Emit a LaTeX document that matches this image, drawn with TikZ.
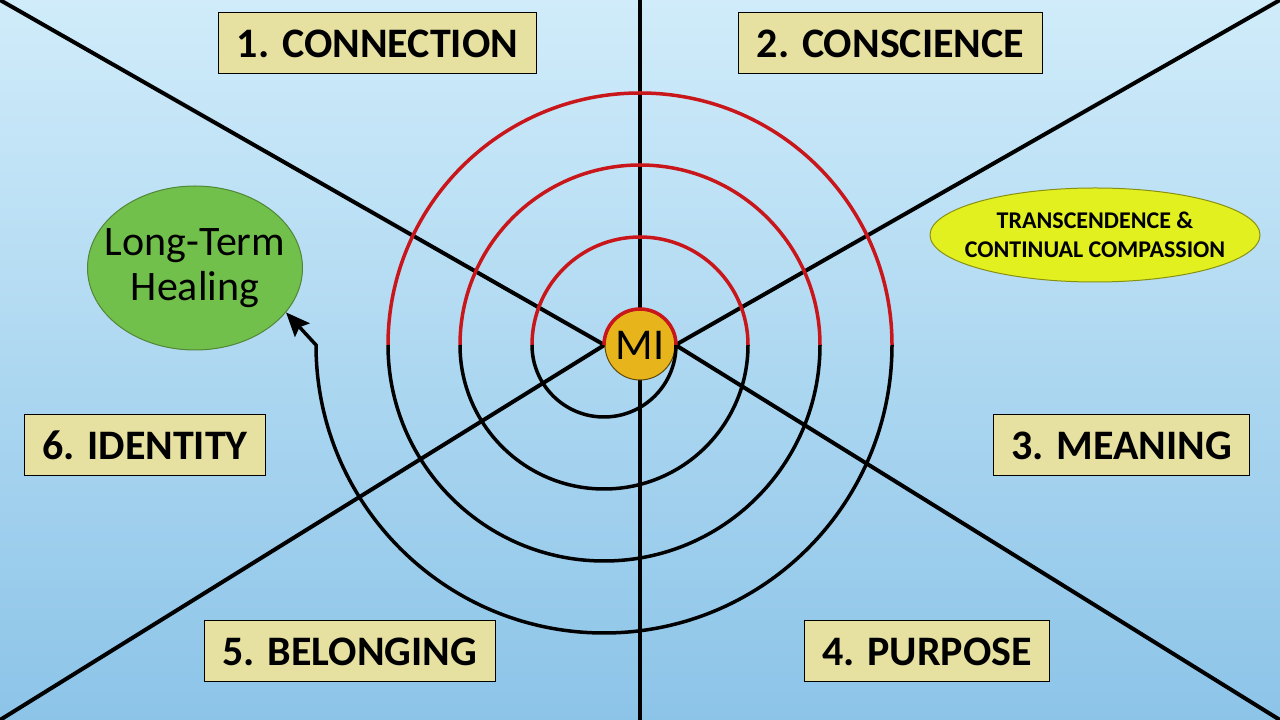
\documentclass[tikz,border=0pt]{standalone}
\usepackage{fontspec}
\setmainfont{Carlito}
\usepackage{tikz}
\usetikzlibrary{positioning,arrows.meta,shapes.geometric,calc}
\definecolor{skytop}{RGB}{208,236,250}
\definecolor{skybottom}{RGB}{140,196,232}
\definecolor{boxcolor}{RGB}{230,225,160}
\definecolor{spiralred}{RGB}{200,22,26}
\definecolor{migold}{RGB}{232,180,28}
\definecolor{healgreen}{RGB}{114,192,76}
\definecolor{transyellow}{RGB}{226,240,32}
\pgfdeclarelayer{back}
\pgfsetlayers{back,main}
\tikzset{
  stage box/.style={
    draw=black,
    fill=boxcolor,
    line width=1pt,
    inner xsep=18pt,
    minimum height=61pt,
    font=\fontsize{42}{48}\selectfont\bfseries
  },
  mi node/.style={
    circle,
    draw=black!60!migold,
    fill=migold,
    line width=1pt,
    minimum size=70pt,
    inner sep=0pt,
    font=\fontsize{44}{48}\selectfont
  },
  heal node/.style={
    ellipse,
    draw=healgreen!70!black,
    fill=healgreen,
    line width=1pt,
    minimum width=215pt,
    minimum height=164pt,
    inner xsep=-17pt,
    inner ysep=0pt,
    align=center,
    text=black,
    font=\fontsize{42}{45}\selectfont
  },
  trans node/.style={
    ellipse,
    draw=transyellow!60!black,
    fill=transyellow,
    line width=1pt,
    minimum width=330pt,
    minimum height=94pt,
    inner xsep=-16pt,
    inner ysep=0pt,
    align=center,
    font=\fontsize{24}{29}\selectfont\bfseries
  },
  axis line/.style={line width=4pt, black},
  red arc/.style={line width=3.5pt, spiralred},
  black arc/.style={line width=3.5pt, black}
}
\begin{document}
\begin{tikzpicture}[x=1pt, y=1pt]

  % Frame and sky
  \useasboundingbox (0,0) rectangle (1280,720);
  \begin{pgfonlayer}{back}
    \fill[top color=skytop, bottom color=skybottom] (0,0) rectangle (1280,720);
  \end{pgfonlayer}

  % Centre
  \node[mi node] (mi) at (640,375) {MI};

  % Stage labels
  \node[stage box] (connection) at (377.5,676.5) {1. CONNECTION};
  \node[stage box] (conscience) at (890.5,676.5) {2. CONSCIENCE};
  \node[stage box] (meaning) at (1121.5,274.5) {3. MEANING};
  \node[stage box] (purpose) at (927,68.5) {4. PURPOSE};
  \node[stage box] (belonging) at (350,68.5) {5. BELONGING};
  \node[stage box] (identity) at (145,274.5) {6. IDENTITY};

  % Side ellipses
  \node[heal node] (heal) at (195,452) {Long-Term\\Healing};
  \node[trans node] (trans) at (1095,485) {TRANSCENDENCE \&\\CONTINUAL COMPASSION};

  % Corners of the frame
  \coordinate (tl) at (0,720);
  \coordinate (tr) at (1280,720);
  \coordinate (bl) at (0,0);
  \coordinate (br) at (1280,0);
  \coordinate (top) at (640,720);
  \coordinate (bottom) at (640,0);

  % Dividing lines
  \begin{pgfonlayer}{back}
    \draw[axis line] (top) -- (mi.north);
    \draw[axis line] (mi.south) -- (bottom);
    \draw[axis line] (tl) -- (mi.west);
    \draw[axis line] (bl) -- (mi.west);
    \draw[axis line] (tr) -- (mi.east);
    \draw[axis line] (br) -- (mi.east);
  \end{pgfonlayer}

  % Spiral: red upper halves, black lower halves
  \foreach \k in {1,...,4}{
    \pgfmathsetmacro\R{72*\k-36}
    \draw[red arc] ($(mi.center)+(-\R,0)$) arc[start angle=180, end angle=0, radius=\R pt];
  }
  \foreach \k in {1,...,3}{
    \pgfmathsetmacro\B{72*\k}
    \draw[black arc] ($(mi.center)+(\B-36,0)$) arc[start angle=0, end angle=-180, radius=\B pt];
  }

  % Last turn leads to healing
  \draw[black arc, arrows={-Stealth[length=24pt, width=20pt, inset=4pt]}]
    ($(mi.center)+(252,0)$) arc[start angle=0, end angle=-180, radius=288pt] -- (heal.-26);

\end{tikzpicture}
\end{document}
